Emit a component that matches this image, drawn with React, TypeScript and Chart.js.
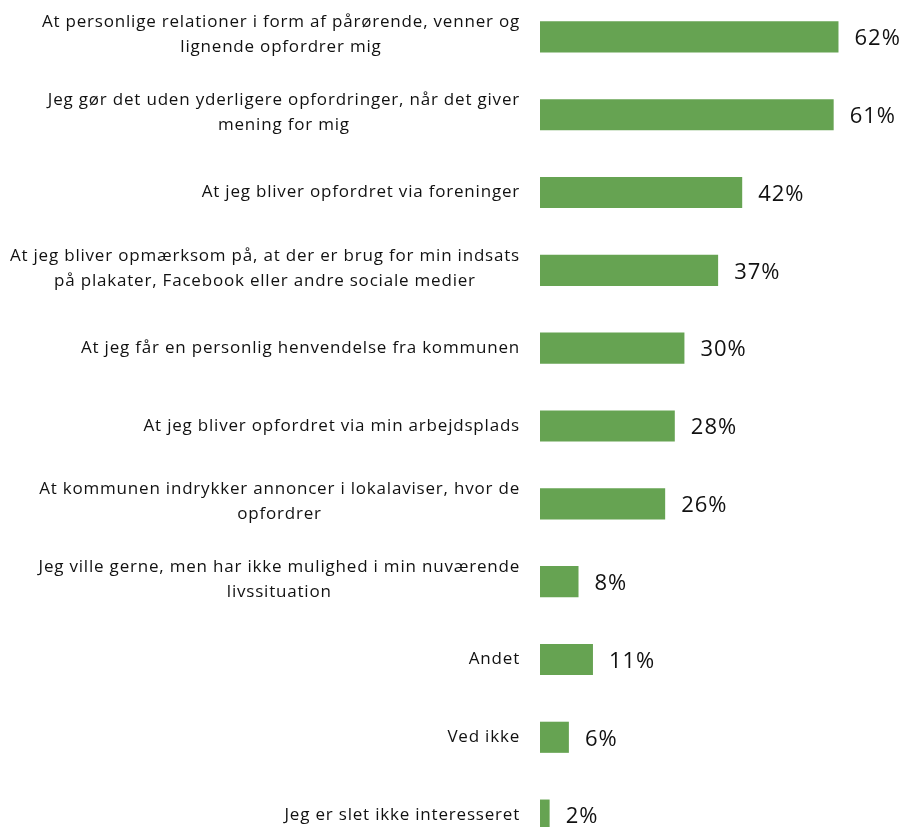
import React, { useEffect, useRef } from "react";
import { Chart, registerables } from "chart.js";

Chart.register(...registerables);

const categories: string[][] = [
  ["At personlige relationer i form af pårørende, venner og", "lignende opfordrer mig"],
  ["Jeg gør det uden yderligere opfordringer, når det giver", "mening for mig"],
  ["At jeg bliver opfordret via foreninger"],
  ["At jeg bliver opmærksom på, at der er brug for min indsats", "på plakater, Facebook eller andre sociale medier"],
  ["At jeg får en personlig henvendelse fra kommunen"],
  ["At jeg bliver opfordret via min arbejdsplads"],
  ["At kommunen indrykker annoncer i lokalaviser, hvor de", "opfordrer"],
  ["Jeg ville gerne, men har ikke mulighed i min nuværende", "livssituation"],
  ["Andet"],
  ["Ved ikke"],
  ["Jeg er slet ikke interesseret"],
];

const values: number[] = [62, 61, 42, 37, 30, 28, 26, 8, 11, 6, 2];

const BAR_COLOR = "#66a352";
const TEXT_COLOR = "#111111";
const LABEL_FONT = "17px 'Open Sans', Lato, sans-serif";
const VALUE_FONT = "22px 'Open Sans', Lato, sans-serif";

const labelPlugin = {
  id: "customLabels",
  afterDatasetsDraw(chart: any) {
    const ctx = chart.ctx as any;
    const yScale = chart.scales.y;
    const xScale = chart.scales.x;
    const labelRight = chart.chartArea.left - 20;
    ctx.save();
    ctx.fillStyle = TEXT_COLOR;
    ctx.font = LABEL_FONT;
    ctx.letterSpacing = "0.8px";
    ctx.textAlign = "center";
    ctx.textBaseline = "middle";
    const lineH = 25;
    categories.forEach((lines, i) => {
      const yc = yScale.getPixelForValue(i);
      const maxW = Math.max(...lines.map((l) => ctx.measureText(l).width));
      const cx = labelRight - maxW / 2;
      const total = (lines.length - 1) * lineH;
      const y0 = yc - total / 2 - (lines.length > 1 ? 2 : 0);
      lines.forEach((l, j) => {
        ctx.fillText(l, cx, y0 + j * lineH);
      });
    });
    ctx.font = VALUE_FONT;
    ctx.letterSpacing = "1px";
    ctx.textAlign = "left";
    values.forEach((v, i) => {
      const x = xScale.getPixelForValue(v) + 16;
      const y = yScale.getPixelForValue(i) + 2;
      ctx.fillText(v + "%", x, y);
    });
    ctx.restore();
  },
};

export default function App() {
  const canvasRef = useRef<HTMLCanvasElement | null>(null);

  useEffect(() => {
    document.body.style.margin = "0";
    document.documentElement.style.overflow = "hidden";
    const canvas = canvasRef.current;
    if (!canvas) return;
    const chart = new Chart(canvas, {
      type: "bar",
      data: {
        labels: categories.map((c) => c.join(" ")),
        datasets: [
          {
            data: values,
            backgroundColor: BAR_COLOR,
            borderWidth: 0,
            categoryPercentage: 0.8,
            barPercentage: 0.5,
          },
        ],
      },
      options: {
        indexAxis: "y",
        animation: false,
        responsive: false,
        maintainAspectRatio: false,
        layout: { padding: { left: 540, right: 28, top: 0, bottom: 0 } },
        plugins: {
          legend: { display: false },
          tooltip: { enabled: false },
          title: { display: false },
        },
        scales: {
          x: { display: false, min: 0, max: 70, grid: { display: false } },
          y: { display: false, grid: { display: false } },
        },
      },
      plugins: [labelPlugin],
    });
    return () => chart.destroy();
  }, []);

  return (
    <div style={{ position: "relative", width: 905, height: 827, overflow: "hidden" }}>
      <canvas
        ref={canvasRef}
        width={905}
        height={856}
        style={{ position: "absolute", left: 0, top: -2, width: 905, height: 856 }}
      />
    </div>
  );
}
